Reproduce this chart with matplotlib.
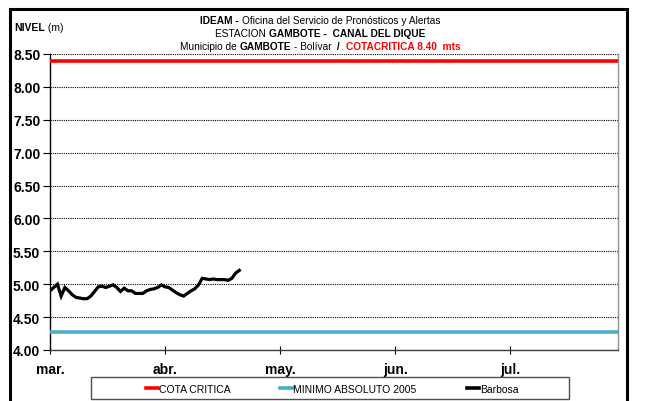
import datetime as dt
import numpy as np
import matplotlib
matplotlib.use("Agg")
import matplotlib.pyplot as plt
import matplotlib.dates as mdates
from matplotlib.lines import Line2D
from matplotlib.patches import Rectangle

# ---------------- data ----------------
start_date = dt.date(2010, 3, 1)
barbosa = [4.90, 4.95, 5.00, 4.82, 4.95, 4.90, 4.84, 4.80, 4.79, 4.78,
           4.78, 4.82, 4.89, 4.96, 4.97, 4.95, 4.97, 4.99, 4.95, 4.89,
           4.94, 4.90, 4.90, 4.86, 4.86, 4.86, 4.90, 4.92, 4.93, 4.95,
           4.99, 4.96, 4.95, 4.91, 4.87, 4.84, 4.82, 4.86, 4.90, 4.93,
           4.99, 5.09, 5.08, 5.07, 5.08, 5.07, 5.07, 5.07, 5.06, 5.09,
           5.17, 5.21]
dates = [start_date + dt.timedelta(days=i) for i in range(len(barbosa))]
cota_critica = 8.40
minimo_absoluto = 4.27
month_labels = ["mar.", "abr.", "may.", "jun.", "jul."]
tick_step_days = 31
month_ticks = [start_date + dt.timedelta(days=tick_step_days * k) for k in range(len(month_labels))]
y_ticks = [4.00, 4.50, 5.00, 5.50, 6.00, 6.50, 7.00, 7.50, 8.00, 8.50]
legend_labels = ["COTA CRITICA", "MINIMO ABSOLUTO 2005", "Barbosa"]

RED = "#FF0000"
CYAN = "#4BACC6"
FONT = "Liberation Sans"

W, H = 650, 402
fig = plt.figure(figsize=(6.5, 4.02), dpi=100)
plt.rcParams["font.family"] = [FONT, "DejaVu Sans"]

ax = fig.add_axes([50 / W, 1 - 351 / H, 568 / W, 296 / H])
ax.axhline(cota_critica, color=RED, lw=2.6, zorder=3)
ax.axhline(minimo_absoluto, color=CYAN, lw=2.6, zorder=3)
ax.plot(dates, barbosa, color="black", lw=2.3, zorder=4, solid_joinstyle="miter")

ax.set_ylim(4.0, 8.5)
ax.set_xlim(dt.date(2010, 3, 1), dt.date(2010, 8, 1))
ax.set_yticks(y_ticks)
ax.set_yticklabels([f"{v:.2f}" for v in y_ticks], fontsize=10, fontweight="bold", family=FONT)
ax.set_xticks(month_ticks)
ax.set_xticklabels(month_labels, fontsize=10, fontweight="bold", family=FONT)
ax.tick_params(axis="y", direction="out", length=5, width=0.8, pad=2)
ax.tick_params(axis="x", direction="inout", length=6, width=0.8, pad=5.5, colors="black")
ax.grid(axis="y", color="black", linestyle=(0, (1, 1)), lw=0.8)
ax.grid(axis="x", visible=False)
ax.spines["top"].set_visible(False)
ax.spines["left"].set_color("black")
ax.spines["left"].set_linewidth(1.0)
ax.spines["bottom"].set_color("#404040")
ax.spines["bottom"].set_linewidth(1.0)
ax.spines["right"].set_color("#909090")
ax.spines["right"].set_linewidth(1.0)

# outer frame
fig.patches.append(Rectangle((10 / W, -0.05), 617 / W, 1.05 - 9.5 / H, transform=fig.transFigure,
                             fill=False, edgecolor="black", lw=2.2, zorder=10))

# legend box
fig.patches.append(Rectangle((91 / W, 1 - 400 / H), 478 / W, 22 / H, transform=fig.transFigure,
                             fill=False, edgecolor="#505050", lw=1.0, zorder=5))
handles = [Line2D([], [], color=RED, lw=2.6),
           Line2D([], [], color=CYAN, lw=2.6),
           Line2D([], [], color="black", lw=2.6)]
fig.legend(handles, legend_labels, loc="center", bbox_to_anchor=(332 / W, 1 - 390 / H),
           ncol=3, frameon=False, handlelength=1.2, handletextpad=0.05, columnspacing=4.8,
           prop={"family": FONT, "size": 7.5})

# rich title lines
renderer = fig.canvas.get_renderer()


def rich_line(y_px, parts, cx_px, size=7.3):
    texts = []
    total = 0
    for s, weight, color in parts:
        t = fig.text(0, 1 - y_px / H, s, fontsize=size, fontweight=weight, color=color,
                     family=FONT, va="baseline", ha="left")
        w = t.get_window_extent(renderer).width
        texts.append((t, w))
        total += w
    x = cx_px - total / 2
    for t, w in texts:
        t.set_x(x / W)
        x += w


rich_line(24, [("IDEAM - ", "bold", "black"),
               ("Oficina del Servicio de Pronósticos y Alertas", "normal", "black")], 320)
rich_line(37, [("ESTACION ", "normal", "black"),
               ("GAMBOTE -  CANAL DEL DIQUE", "bold", "black")], 320)
rich_line(50, [("Municipio de ", "normal", "black"),
               ("GAMBOTE", "bold", "black"),
               (" - Bolívar ", "normal", "black"),
               (" /  ", "bold", "black"),
               ("COTACRITICA 8.40  mts", "bold", RED)], 320)

t1 = fig.text(14 / W, 1 - 31 / H, "NIVEL", fontsize=7.5, fontweight="bold", family=FONT,
              va="baseline", ha="left")
w1 = t1.get_window_extent(renderer).width
fig.text((14 + w1) / W, 1 - 31 / H, " (m)", fontsize=7.5, family=FONT, va="baseline", ha="left")

fig.savefig("out.png", dpi=100)
